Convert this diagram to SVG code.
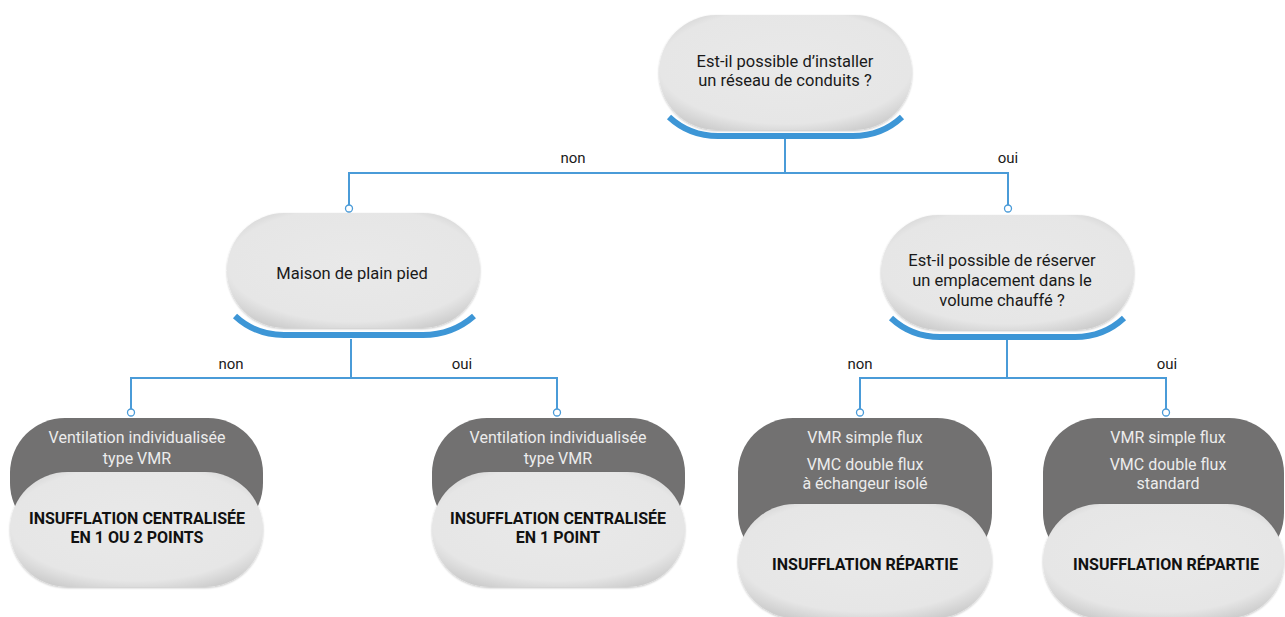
<svg xmlns="http://www.w3.org/2000/svg" width="1285" height="617" viewBox="0 0 1285 617">
<defs>
<radialGradient id="pillg" cx="0.5" cy="0.45" r="0.62">
<stop offset="0" stop-color="#e9e9e9"/>
<stop offset="0.8" stop-color="#e6e6e6"/>
<stop offset="1" stop-color="#cdcdcd"/>
</radialGradient>
<filter id="sh" x="-5%" y="-5%" width="110%" height="115%">
<feGaussianBlur in="SourceAlpha" stdDeviation="1.2"/>
<feOffset dy="1"/>
<feComponentTransfer><feFuncA type="linear" slope="0.25"/></feComponentTransfer>
<feMerge><feMergeNode/><feMergeNode in="SourceGraphic"/></feMerge>
</filter>
</defs>
<style>
.pill{fill:url(#pillg);filter:url(#sh)}
.dark{fill:#727171}
.arc{fill:none;stroke:#3d96d6;stroke-width:6}
.ln{fill:none;stroke:#4a9bd8;stroke-width:2}
.dot{fill:#fff;stroke:#4a9bd8;stroke-width:1.3}
.t{font-family:Roboto,"Liberation Sans",sans-serif;font-size:16.5px;fill:#1a1a1a;text-anchor:middle}
.w{font-family:Roboto,"Liberation Sans",sans-serif;font-size:16px;fill:#ececec;text-anchor:middle}
.b{font-family:Roboto,"Liberation Sans",sans-serif;font-size:16px;font-weight:bold;fill:#111;text-anchor:middle}
.lbl{font-family:Roboto,"Liberation Sans",sans-serif;font-size:15px;fill:#1a1a1a;text-anchor:middle}
</style>

<g id="connectors">
<path class="ln" d="M785 139 V173 M349 173 H1008 M349 172 V205 M1008 172 V205"/>
<circle class="dot" cx="349" cy="208.5" r="3.5"/>
<circle class="dot" cx="1008" cy="208.5" r="3.5"/>
<path class="ln" d="M351 339 V378 M131 378 H557 M131 377 V409 M557 377 V409"/>
<circle class="dot" cx="131" cy="412.5" r="3.5"/>
<circle class="dot" cx="557" cy="412.5" r="3.5"/>
<path class="ln" d="M1007 339 V378 M860 378 H1166 M860 377 V409 M1166 377 V409"/>
<circle class="dot" cx="860" cy="412.5" r="3.5"/>
<circle class="dot" cx="1166" cy="412.5" r="3.5"/>
<text class="lbl" x="573" y="163">non</text>
<text class="lbl" x="1008" y="163">oui</text>
<text class="lbl" x="231" y="369">non</text>
<text class="lbl" x="462" y="369">oui</text>
<text class="lbl" x="860" y="369">non</text>
<text class="lbl" x="1167" y="369">oui</text>
</g>

<g id="q1">
<rect class="pill" x="659" y="15" width="253" height="115" rx="57.5"/>
<path class="arc" d="M669 117 C684 131 700 136 718 136 L853 136 C871 136 887 131 902 117"/>
<text class="t" x="785" y="67">Est-il possible d’installer</text>
<text class="t" x="785" y="86">un réseau de conduits ?</text>
</g>

<g id="q2">
<rect class="pill" x="227" y="213" width="253" height="115" rx="57.5"/>
<path class="arc" d="M235 316 C250 330 266 335 284 335 L423 335 C441 335 458 330 474 316"/>
<text class="t" x="352" y="279">Maison de plain pied</text>
</g>

<g id="q3">
<rect class="pill" x="881" y="215" width="253" height="115" rx="57.5"/>
<path class="arc" d="M891 318 C906 332 922 337 940 337 L1075 337 C1093 337 1109 332 1124 318"/>
<text class="t" x="1002" y="266">Est-il possible de réserver</text>
<text class="t" x="1002" y="286">un emplacement dans le</text>
<text class="t" x="1002" y="306">volume chauffé ?</text>
</g>

<g id="r1">
<rect class="dark" x="10" y="418" width="253" height="120" rx="55"/>
<rect class="pill" x="10" y="472" width="253" height="115" rx="57.5"/>
<text class="w" x="137" y="443">Ventilation individualisée</text>
<text class="w" x="137" y="464">type VMR</text>
<text class="b" x="137" y="524">INSUFFLATION CENTRALISÉE</text>
<text class="b" x="137" y="543">EN 1 OU 2 POINTS</text>
</g>

<g id="r2">
<rect class="dark" x="432" y="418" width="253" height="120" rx="55"/>
<rect class="pill" x="432" y="472" width="253" height="115" rx="57.5"/>
<text class="w" x="558" y="443">Ventilation individualisée</text>
<text class="w" x="558" y="464">type VMR</text>
<text class="b" x="558" y="524">INSUFFLATION CENTRALISÉE</text>
<text class="b" x="558" y="543">EN 1 POINT</text>
</g>

<g id="r3">
<rect class="dark" x="738" y="418" width="254" height="150" rx="55"/>
<rect class="pill" x="738" y="504" width="254" height="114" rx="57"/>
<text class="w" x="865" y="443">VMR simple flux</text>
<text class="w" x="865" y="470">VMC double flux</text>
<text class="w" x="865" y="489">à échangeur isolé</text>
<text class="b" x="865" y="570">INSUFFLATION RÉPARTIE</text>
</g>

<g id="r4">
<rect class="dark" x="1043" y="418" width="241" height="150" rx="55"/>
<rect class="pill" x="1043" y="504" width="241" height="114" rx="57"/>
<text class="w" x="1168" y="443">VMR simple flux</text>
<text class="w" x="1168" y="470">VMC double flux</text>
<text class="w" x="1168" y="489">standard</text>
<text class="b" x="1166" y="570">INSUFFLATION RÉPARTIE</text>
</g>
</svg>
